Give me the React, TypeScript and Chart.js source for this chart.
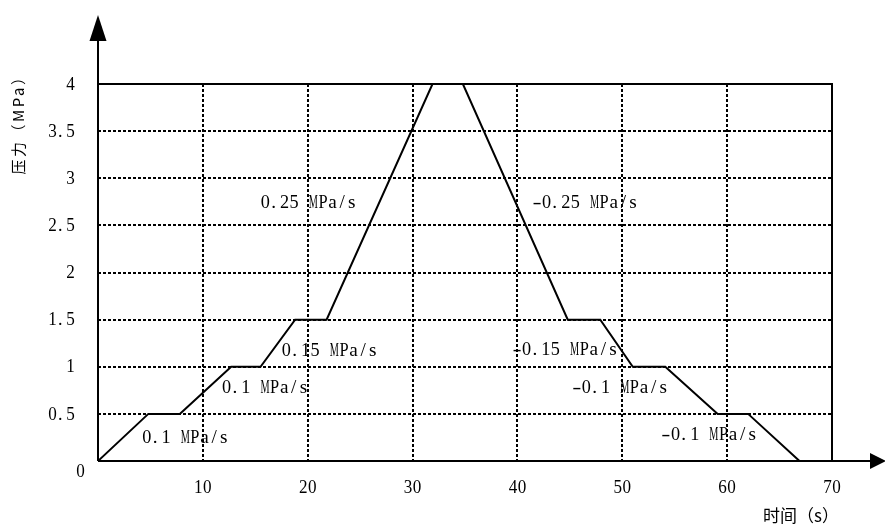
import { useEffect, useRef } from "react";
import { Chart, registerables } from "chart.js";

Chart.register(...registerables);

// ---- data ----
const timeS = [0, 4.8, 7.8, 12.7, 15.5, 18.8, 21.8, 31.9, 34.8, 44.8, 47.9, 51.0, 54.1, 59.1, 62.0, 66.9];
const pressureMPa = [0, 0.5, 0.5, 1, 1, 1.5, 1.5, 4, 4, 1.5, 1.5, 1, 1, 0.5, 0.5, 0];

const xTickValues = [10, 20, 30, 40, 50, 60, 70];
const xTickLabels = ["10", "20", "30", "40", "50", "60", "70"];
const yTickValues = [0, 0.5, 1, 1.5, 2, 2.5, 3, 3.5, 4];
const yTickLabels = ["0", "0.5", "1", "1.5", "2", "2.5", "3", "3.5", "4"];

const annotationTexts = [
  "0.1 MPa/s",
  "0.1 MPa/s",
  "0.15 MPa/s",
  "0.25 MPa/s",
  "-0.25 MPa/s",
  "-0.15 MPa/s",
  "-0.1 MPa/s",
  "-0.1 MPa/s",
];
const annotationTime = [4.3, 11.9, 17.6, 15.6, 41.5, 39.6, 45.3, 53.8];
const annotationPressure = [0.24, 0.77, 1.17, 2.74, 2.74, 1.18, 0.77, 0.28];

const xTitle = "时间（s）";
const yTitle = "压力（MPa）";

const LATIN = '"Liberation Serif", serif';
const CJK = '"Noto Sans CJK SC", sans-serif';

function drawMono(ctx: CanvasRenderingContext2D, text: string, left: number, cy: number, size: number) {
  const cell = size * 0.5;
  ctx.font = `${size}px ${LATIN}`;
  ctx.textBaseline = "middle";
  ctx.fillStyle = "#000";
  for (let i = 0; i < text.length; i++) {
    const ch = text[i];
    if (ch === " ") continue;
    const cx = left + i * cell;
    if (ch === ".") {
      ctx.textAlign = "left";
      ctx.fillText(ch, cx + 1, cy);
      continue;
    }
    const w = ctx.measureText(ch).width;
    let sx = 1;
    if (ch === "-") sx = (cell * 0.95) / w;
    else if (w > cell * 0.95) sx = (cell * 0.95) / w;
    ctx.save();
    ctx.translate(cx + cell / 2, cy);
    ctx.scale(sx, 1);
    ctx.textAlign = "center";
    ctx.fillText(ch, 0, 0);
    ctx.restore();
  }
}

const decorPlugin = {
  id: "decor",
  afterDatasetsDraw(chart: any) {
    const ctx: CanvasRenderingContext2D = chart.ctx;
    const xs = chart.scales.x;
    const ys = chart.scales.y;
    const x0 = xs.getPixelForValue(0);
    const x70 = xs.getPixelForValue(70);
    const y0 = ys.getPixelForValue(0);
    const y4 = ys.getPixelForValue(4);
    const W = chart.width;

    ctx.save();
    ctx.strokeStyle = "#000";
    ctx.fillStyle = "#000";
    ctx.lineWidth = 2;
    ctx.setLineDash([]);

    // frame: top and right
    ctx.beginPath();
    ctx.moveTo(x0, y4);
    ctx.lineTo(x70, y4);
    ctx.lineTo(x70, y0);
    ctx.stroke();

    // y axis with arrow
    ctx.beginPath();
    ctx.moveTo(x0, y0);
    ctx.lineTo(x0, 36);
    ctx.stroke();
    ctx.beginPath();
    ctx.moveTo(x0, 15);
    ctx.lineTo(x0 - 8.5, 41);
    ctx.lineTo(x0 + 8.5, 41);
    ctx.closePath();
    ctx.fill();

    // x axis with arrow
    ctx.beginPath();
    ctx.moveTo(x0, y0);
    ctx.lineTo(W - 14, y0);
    ctx.stroke();
    ctx.beginPath();
    ctx.moveTo(W + 1, y0);
    ctx.lineTo(W - 15, y0 - 8);
    ctx.lineTo(W - 15, y0 + 8);
    ctx.closePath();
    ctx.fill();

    // x tick labels
    xTickValues.forEach((v, i) => {
      const t = xTickLabels[i];
      const px = xs.getPixelForValue(v);
      drawMono(ctx, t, px - (t.length * 9) / 2, y0 + 27, 18);
    });

    // y tick labels
    yTickValues.forEach((v, i) => {
      const t = yTickLabels[i];
      const py = ys.getPixelForValue(v);
      if (v === 0) {
        drawMono(ctx, t, x0 - 22, py + 11, 18);
      } else {
        drawMono(ctx, t, x0 - 23 - t.length * 9, py + 1, 18);
      }
    });

    // annotations
    annotationTexts.forEach((t, i) => {
      const px = xs.getPixelForValue(annotationTime[i]);
      const py = ys.getPixelForValue(annotationPressure[i]);
      drawMono(ctx, t, px - 1, py, 19.2);
    });

    // titles
    const anyCtx = ctx as any;
    ctx.font = `15px ${CJK}`;
    ctx.textAlign = "center";
    ctx.textBaseline = "middle";
    ctx.save();
    anyCtx.letterSpacing = "2.5px";
    ctx.translate(18, 121);
    ctx.rotate(-Math.PI / 2);
    ctx.fillText(yTitle, 0, 0);
    ctx.restore();

    ctx.save();
    anyCtx.letterSpacing = "0px";
    ctx.font = `17px ${CJK}`;
    ctx.textAlign = "left";
    ctx.fillText(xTitle, 763, 516);
    ctx.restore();

    ctx.restore();
  },
};

export default function App() {
  const ref = useRef<HTMLCanvasElement | null>(null);

  useEffect(() => {
    if (!ref.current) return;
    const gridColor = (c: any) => {
      const v = c.tick ? c.tick.value : null;
      if (c.scale.axis === "x" && (v === 0 || v === 70)) return "rgba(0,0,0,0)";
      if (c.scale.axis === "y" && (v === 0 || v === 4)) return "rgba(0,0,0,0)";
      return "#000";
    };
    const chart = new Chart(ref.current, {
      type: "line",
      data: {
        datasets: [
          {
            data: timeS.map((t, i) => ({ x: t, y: pressureMPa[i] })),
            borderColor: "#000",
            borderWidth: 2,
            pointRadius: 0,
            tension: 0,
            fill: false,
          },
        ],
      },
      options: {
        animation: false,
        responsive: true,
        maintainAspectRatio: false,
        layout: { padding: { left: 98, right: 53, top: 84, bottom: 64 } },
        plugins: { legend: { display: false }, tooltip: { enabled: false } },
        scales: {
          x: {
            type: "linear",
            min: 0,
            max: 70,
            ticks: { display: false, stepSize: 10 },
            grid: { color: gridColor, lineWidth: 2, drawTicks: false },
            border: { display: false, dash: [3, 2] },
          },
          y: {
            type: "linear",
            min: 0,
            max: 4,
            ticks: { display: false, stepSize: 0.5 },
            grid: { color: gridColor, lineWidth: 2, drawTicks: false },
            border: { display: false, dash: [3, 2] },
          },
        },
      },
      plugins: [decorPlugin],
    });
    return () => chart.destroy();
  }, []);

  return (
    <div style={{ position: "fixed", left: 0, top: 0, width: 885, height: 525, background: "#fff" }}>
      <canvas ref={ref} />
    </div>
  );
}
